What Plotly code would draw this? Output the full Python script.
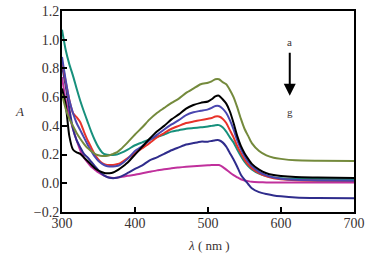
import plotly.graph_objects as go

wavelength = [300, 305, 310, 315, 320, 325, 330, 335, 340, 345, 350, 355, 360, 365, 370, 375, 380,
              390, 400, 410, 420, 430, 440, 450, 460, 470, 480, 490, 500, 505, 510, 515, 520, 525,
              530, 535, 540, 545, 550, 555, 560, 570, 580, 590, 600, 620, 650, 700]

curve_a = [0.62, 0.52, 0.45, 0.40, 0.35, 0.31, 0.275, 0.245, 0.225, 0.205, 0.195, 0.19, 0.19, 0.195, 0.205, 0.215, 0.235,
           0.285, 0.34, 0.39, 0.445, 0.49, 0.525, 0.56, 0.59, 0.63, 0.66, 0.69, 0.70, 0.71, 0.725, 0.725, 0.705, 0.69,
           0.65, 0.60, 0.53, 0.45, 0.38, 0.33, 0.28, 0.225, 0.195, 0.178, 0.17, 0.16, 0.157, 0.155]
curve_b = [0.66, 0.55, 0.33, 0.235, 0.215, 0.205, 0.18, 0.155, 0.13, 0.105, 0.088, 0.077, 0.07, 0.07, 0.075, 0.088, 0.105,
           0.145, 0.20, 0.255, 0.31, 0.36, 0.40, 0.445, 0.48, 0.52, 0.545, 0.56, 0.57, 0.585, 0.605, 0.61, 0.585, 0.555,
           0.50, 0.42, 0.33, 0.26, 0.21, 0.17, 0.135, 0.095, 0.07, 0.057, 0.05, 0.043, 0.04, 0.036]
curve_c = [0.88, 0.72, 0.58, 0.49, 0.42, 0.37, 0.32, 0.27, 0.225, 0.185, 0.155, 0.135, 0.122, 0.117, 0.117, 0.12, 0.13,
           0.17, 0.225, 0.26, 0.30, 0.337, 0.375, 0.41, 0.44, 0.475, 0.495, 0.505, 0.515, 0.525, 0.538, 0.538, 0.52, 0.49,
           0.44, 0.375, 0.30, 0.24, 0.19, 0.15, 0.12, 0.08, 0.055, 0.04, 0.032, 0.024, 0.02, 0.018]
curve_d = [0.85, 0.71, 0.58, 0.49, 0.46, 0.425, 0.36, 0.30, 0.25, 0.20, 0.165, 0.14, 0.13, 0.127, 0.127, 0.132, 0.14,
           0.175, 0.21, 0.245, 0.28, 0.32, 0.35, 0.38, 0.40, 0.42, 0.43, 0.44, 0.45, 0.455, 0.465, 0.465, 0.45, 0.42,
           0.37, 0.32, 0.26, 0.21, 0.165, 0.13, 0.105, 0.07, 0.048, 0.035, 0.028, 0.021, 0.018, 0.016]
curve_e = [1.07, 0.93, 0.83, 0.75, 0.66, 0.575, 0.50, 0.43, 0.36, 0.30, 0.25, 0.215, 0.20, 0.197, 0.197, 0.20, 0.21,
           0.235, 0.265, 0.285, 0.305, 0.322, 0.34, 0.36, 0.37, 0.38, 0.385, 0.39, 0.395, 0.40, 0.405, 0.405, 0.39, 0.36,
           0.32, 0.285, 0.235, 0.19, 0.15, 0.12, 0.097, 0.067, 0.05, 0.04, 0.035, 0.031, 0.029, 0.028]
curve_f = [0.82, 0.68, 0.52, 0.38, 0.30, 0.25, 0.205, 0.18, 0.15, 0.12, 0.09, 0.065, 0.048, 0.038, 0.035, 0.038, 0.046,
           0.072, 0.10, 0.125, 0.16, 0.18, 0.205, 0.23, 0.25, 0.27, 0.28, 0.29, 0.29, 0.295, 0.30, 0.30, 0.285, 0.255,
           0.21, 0.165, 0.115, 0.06, 0.025, -0.005, -0.035, -0.062, -0.075, -0.085, -0.091, -0.099, -0.103, -0.105]
curve_g = [0.74, 0.58, 0.47, 0.38, 0.30, 0.23, 0.18, 0.145, 0.115, 0.095, 0.075, 0.06, 0.048, 0.04, 0.037, 0.039, 0.043,
           0.052, 0.06, 0.07, 0.08, 0.09, 0.098, 0.105, 0.11, 0.115, 0.118, 0.122, 0.125, 0.127, 0.128, 0.127, 0.115, 0.095,
           0.075, 0.057, 0.042, 0.028, 0.02, 0.015, 0.011, 0.008, 0.006, 0.005, 0.005, 0.005, 0.005, 0.005]

series = [
    ("a", curve_a, "#748a3c"),
    ("b", curve_b, "#000000"),
    ("c", curve_c, "#4a47b0"),
    ("d", curve_d, "#e8332a"),
    ("e", curve_e, "#17907c"),
    ("f", curve_f, "#2f2c8c"),
    ("g", curve_g, "#c0309c"),
]
draw_order = ["g", "f", "e", "d", "c", "b", "a"]

x_ticks = [300, 400, 500, 600, 700]
y_ticks = [-0.2, 0.0, 0.2, 0.4, 0.6, 0.8, 1.0, 1.2]

fig = go.Figure()
lookup = {n: (v, c) for n, v, c in series}
for name in draw_order:
    vals, col = lookup[name]
    fig.add_trace(go.Scatter(x=wavelength, y=vals, mode="lines", name=name,
                             line=dict(color=col, width=2, shape="spline", smoothing=0.6),
                             showlegend=False))

font_fam = "Liberation Serif, Times New Roman, serif"
txt_col = "#3a3232"
fig.update_layout(
    width=390, height=266,
    margin=dict(l=62, r=36, t=11, b=54, autoexpand=False),
    paper_bgcolor="white", plot_bgcolor="white",
    font=dict(family=font_fam, size=14, color=txt_col),
    xaxis=dict(range=[300, 700], tickvals=x_ticks, ticktext=[str(v) for v in x_ticks],
               ticks="inside", ticklen=5, tickwidth=1.5, tickcolor="black",
               showline=True, linecolor="black", linewidth=2, mirror=True,
               showgrid=False, zeroline=False, automargin=False,
               ticklabeloverflow="allow", ticklabelstandoff=-3),
    yaxis=dict(range=[-0.2, 1.2], tickvals=y_ticks, tickformat=".1f",
               ticks="inside", ticklen=5, tickwidth=1.5, tickcolor="black",
               showline=True, linecolor="black", linewidth=2, mirror=True,
               showgrid=False, zeroline=False, automargin=False,
               ticklabeloverflow="allow", ticklabelstandoff=-2),
)

# axis titles
fig.add_annotation(x=-0.147, y=0.502, xref="paper", yref="paper", text="<i>A</i>",
                   xanchor="center", yanchor="middle",
                   showarrow=False, font=dict(size=13, color=txt_col))
fig.add_annotation(x=0.505, y=-0.169, xref="paper", yref="paper", text="<i>λ</i> ( nm )",
                   xanchor="center", yanchor="middle",
                   showarrow=False, font=dict(size=13, color=txt_col))

# a -> g arrow
fig.add_annotation(x=612, y=0.985, xref="x", yref="y", text="a", showarrow=False,
                   xanchor="center", yanchor="middle", font=dict(size=11, color=txt_col))
fig.add_annotation(x=612, y=0.497, xref="x", yref="y", text="g", showarrow=False,
                   xanchor="center", yanchor="middle", font=dict(size=11, color=txt_col))
fig.add_annotation(x=612, y=0.61, ax=612, ay=0.92, xref="x", yref="y", axref="x", ayref="y",
                   text="", showarrow=True, arrowhead=2, arrowsize=1.2, arrowwidth=2,
                   arrowcolor="black")

fig.write_html("out.html", config={"displayModeBar": False},
               post_script="document.body.style.margin='0';")
